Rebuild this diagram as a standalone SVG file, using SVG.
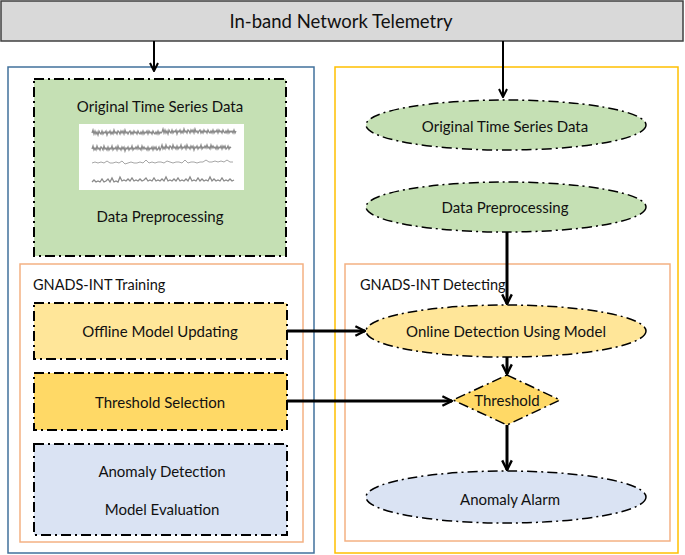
<svg xmlns="http://www.w3.org/2000/svg" width="685" height="555" viewBox="0 0 685 555">
<defs>
<style>
text{font-family:Lato,"Open Sans","Liberation Sans",sans-serif;fill:#111;}
.lbl{font-size:15px;text-anchor:middle;dominant-baseline:central;}
.cap{font-size:14.5px;dominant-baseline:central;}
.dd{stroke:#000;stroke-width:2;stroke-dasharray:10 4 2 4;}
.de{stroke:#000;stroke-width:1.5;stroke-dasharray:10 4 2 4;}
.conn{stroke:#000;fill:none;}
.ts{fill:none;stroke:#8a8a8a;stroke-width:1.3;}
</style>
<marker id="ah" viewBox="0 0 10 10" refX="9" refY="5" markerWidth="4" markerHeight="4" orient="auto" markerUnits="strokeWidth">
<path d="M1 1 L9 5 L1 9" fill="none" stroke="#000" stroke-width="2"/>
</marker>
<marker id="ahs" viewBox="0 0 10 10" refX="9" refY="5" markerWidth="5" markerHeight="5" orient="auto" markerUnits="strokeWidth">
<path d="M1 1 L9 5 L1 9" fill="none" stroke="#000" stroke-width="2"/>
</marker>
</defs>
<rect width="685" height="555" fill="#fff"/>

<g id="top">
<rect x="1" y="1" width="682" height="40" fill="#d9d9d9" stroke="#404040" stroke-width="1.5"/>
<text x="341" y="21" class="lbl" style="font-size:18.5px">In-band Network Telemetry</text>
</g>

<g id="training-panel">
<rect x="8" y="67" width="306" height="486" fill="none" stroke="#41719c" stroke-width="1.5"/>
</g>
<g id="detecting-panel">
<rect x="335" y="67" width="343" height="486" fill="none" stroke="#ffc000" stroke-width="1.5"/>
</g>

<g id="left-data">
<rect x="34" y="79" width="252" height="177" fill="#c5e0b4" class="dd"/>
<text x="160" y="106" class="lbl">Original Time Series Data</text>
<rect x="79" y="124" width="165" height="66" fill="#fff"/>
<path class="ts" d="M92 133 l1 -3 1 4 1 -3 1 3 1 -2 1 3 1 -4 1 2 1 1 1 -3 1 3 1 -2 1 1 1 -2 1 4 1 -3 1 1 1 -2 1 3 1 -2 1 2 1 -4 1 3 1 -1 1 2 1 -3 1 1 1 2 1 -3 1 2 1 -2 1 3 1 -4 1 3 1 -1 1 2 1 -2 1 -1 1 3 1 -2 1 2 1 -3 1 2 1 -1 1 2 1 -3 1 2 1 1 1 -2 1 2 1 -3 1 3 1 -2 1 1 1 -2 1 3 1 -3 1 2 1 -1 1 2 1 -3 1 2 1 1 1 -2 1 2 1 -3 1 3 1 -2 1 1 1 -1 1 -3 1 4 1 -3 1 3 1 -2 1 3 1 -4 1 2 1 1 1 -3 1 3 1 -2 1 1 1 -2 1 4 1 -3 1 1 1 -2 1 3 1 -2 1 2 1 -4 1 3 1 -1 1 2 1 -3 1 1 1 2 1 -3 1 2 1 -2 1 3 1 -4 1 3 1 -1 1 2 1 -2 1 -1 1 3 1 -2 1 2 1 -3 1 2 1 -1 1 2 1 -3 1 2 1 1 1 -2 1 2 1 -3 1 3 1 -2 1 1 1 -2 1 3 1 -3 1 2 1 -1 1 2 1 -3 1 2 1 1 1 -2 1 2 1 -3 1 3 1 -2 1 1 1 -1 1 2 1 -3 1 3 1 -2"/>
<path class="ts" d="M92 149 l1 -3 1 4 1 -2 1 2 1 -4 1 3 1 -1 1 2 1 -3 1 1 1 2 1 -4 1 3 1 -1 1 2 1 -3 1 3 1 -2 1 1 1 -3 1 4 1 -2 1 1 1 -2 1 3 1 -4 1 3 1 -1 1 2 1 -3 1 2 1 -2 1 4 1 -3 1 1 1 -2 1 3 1 -2 1 1 1 -3 1 4 1 -2 1 1 1 -2 1 2 1 -3 1 3 1 -1 1 2 1 -4 1 3 1 -2 1 2 1 -1 1 2 1 -3 1 3 1 -2 1 1 1 -2 1 3 1 -3 1 2 1 -2 1 3 1 -1 1 -2 1 3 1 -2 1 -3 1 4 1 -2 1 2 1 -4 1 3 1 -1 1 2 1 -3 1 1 1 2 1 -4 1 3 1 -1 1 2 1 -3 1 3 1 -2 1 1 1 -3 1 4 1 -2 1 1 1 -2 1 3 1 -4 1 3 1 -1 1 2 1 -3 1 2 1 -2 1 4 1 -3 1 1 1 -2 1 3 1 -2 1 1 1 -3 1 4 1 -2 1 1 1 -2 1 2 1 -3 1 3 1 -1 1 2 1 -4 1 3 1 -2 1 2 1 -1 1 2 1 -3 1 3 1 -2 1 1 1 -2 1 3 1 -3 1 2 1 -2 1 3 1 -1 1 -2 1 3 1 -2 1 1"/>
<path class="ts" style="stroke:#a6a6a6;stroke-width:1" d="M92 163 l3 -1 3 1 3 -1 3 1 3 -2 3 2 3 0 3 -1 3 1 3 -2 3 3 3 -1 3 -1 3 1 3 0 3 -1 3 1 3 -3 3 3 3 -1 3 1 3 -1 3 0 3 1 3 -2 3 1 3 1 3 -1 3 0 3 1 3 -3 3 3 3 -1 3 0 3 1 3 -1 3 0 3 -2 3 2 3 0 3 -1 3 1 3 -1 3 1 3 -2 3 2 3 0"/>
<path class="ts" d="M92 182 l2 -2 2 2 2 -1 2 1 2 -3 2 3 2 -1 2 -2 2 3 2 -4 2 4 2 -1 2 1 2 -5 2 4 2 -1 2 1 2 -2 2 2 2 -3 2 3 2 -1 2 1 2 -2 2 2 2 -1 2 -2 2 3 2 -1 2 1 2 -3 2 3 2 -1 2 1 2 -2 2 2 2 -4 2 4 2 -1 2 1 2 -2 2 2 2 -3 2 3 2 -1 2 1 2 -2 2 2 2 -4 2 4 2 -1 2 1 2 -3 2 3 2 -2 2 2 2 -1 2 1 2 -4 2 4 2 -2 2 2 2 -1 2 1 2 -3 2 3 2 -1 2 1 2 -2 2 2 2 -1"/>
<text x="160" y="216" class="lbl">Data Preprocessing</text>
</g>

<g id="training-group">
<rect x="20" y="264" width="283" height="278" fill="none" stroke="#f4b183" stroke-width="1.5"/>
<text x="33" y="284" class="cap">GNADS-INT Training</text>
</g>
<g id="offline">
<rect x="34" y="303" width="253" height="56" fill="#ffe699" class="dd"/>
<text x="160" y="331" class="lbl">Offline Model Updating</text>
</g>
<g id="threshold-selection">
<rect x="34" y="373" width="253" height="57" fill="#ffd966" class="dd"/>
<text x="160" y="402" class="lbl">Threshold Selection</text>
</g>
<g id="evaluation">
<rect x="34" y="444" width="253" height="91" fill="#dae3f3" class="dd"/>
<text x="162" y="471" class="lbl">Anomaly Detection</text>
<text x="162" y="509" class="lbl">Model Evaluation</text>
</g>

<g id="detecting-group">
<rect x="345" y="264" width="325" height="277" fill="none" stroke="#f4b183" stroke-width="1.5"/>
<text x="360" y="284" class="cap">GNADS-INT Detecting</text>
</g>
<g id="r-data">
<ellipse cx="506" cy="125" rx="140" ry="25" fill="#c5e0b4" class="de"/>
<text x="505" y="126" class="lbl">Original Time Series Data</text>
</g>
<g id="r-prep">
<ellipse cx="506" cy="207" rx="140" ry="25" fill="#c5e0b4" class="de"/>
<text x="505" y="207" class="lbl">Data Preprocessing</text>
</g>
<g id="online">
<ellipse cx="506" cy="331" rx="140" ry="26" fill="#ffe699" class="de"/>
<text x="506" y="331" class="lbl">Online Detection Using Model</text>
</g>
<g id="threshold">
<polygon points="507,375 560,400 507,425 453,400" fill="#ffd966" class="de"/>
<text x="507" y="400" class="lbl">Threshold</text>
</g>
<g id="alarm">
<ellipse cx="506" cy="497" rx="140" ry="26" fill="#dae3f3" class="de"/>
<text x="510" y="499" class="lbl">Anomaly Alarm</text>
</g>

<g id="connectors">
<line class="conn" x1="154" y1="41" x2="154" y2="71" stroke-width="2" marker-end="url(#ahs)"/>
<line class="conn" x1="503" y1="41" x2="503" y2="97" stroke-width="2" marker-end="url(#ahs)"/>
<line class="conn" x1="507" y1="232" x2="507" y2="304" stroke-width="3" marker-end="url(#ah)"/>
<line class="conn" x1="507" y1="357" x2="507" y2="374" stroke-width="3" marker-end="url(#ah)"/>
<line class="conn" x1="507" y1="425" x2="507" y2="470" stroke-width="3" marker-end="url(#ah)"/>
<line class="conn" x1="287" y1="331" x2="365" y2="331" stroke-width="3" marker-end="url(#ah)"/>
<line class="conn" x1="287" y1="401" x2="452" y2="401" stroke-width="3" marker-end="url(#ah)"/>
</g>
</svg>
